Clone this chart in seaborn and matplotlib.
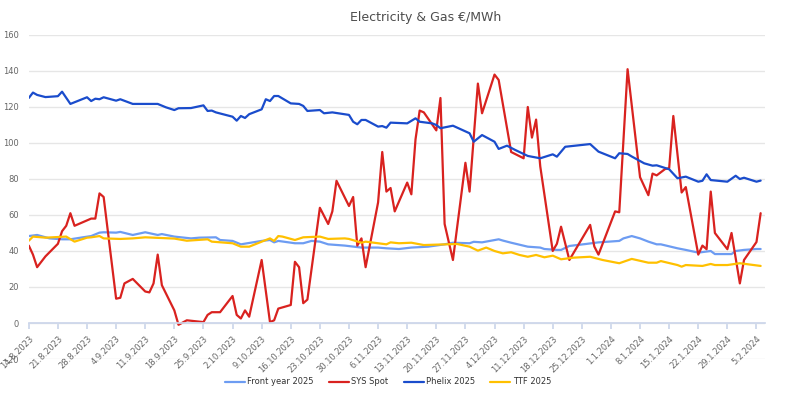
import pandas as pd
import numpy as np
import seaborn as sns
import matplotlib.pyplot as plt

# Startdatum, Werte als Tage seit Start
START = pd.Timestamp('2023-08-14')

spot_day = [0, 1, 2, 3, 4, 7, 8, 9, 10, 11, 15, 16, 17, 18, 21, 22, 23, 25, 28, 29,
            30, 31, 32, 35, 36, 38, 42, 43, 44, 46, 49, 50, 51, 52, 53, 56, 58, 59, 60, 63,
            64, 65, 66, 67, 70, 72, 73, 74, 77, 78, 79, 80, 81, 84, 85, 86, 87, 88, 91, 92,
            93, 94, 95, 98, 99, 100, 102, 105, 106, 108, 109, 112, 113, 116, 119, 120, 121, 122, 123, 126,
            127, 128, 130, 135, 136, 137, 141, 142, 144, 147, 148, 149, 150, 151, 153, 154, 155, 157, 158, 161,
            162, 163, 164, 165, 168, 169, 171, 172, 175, 176]
spot_val = [43, 38, 31, 34, 37, 44, 51, 54, 61, 54, 58, 58, 72, 70, 13.5, 14, 22, 24.5, 17.5, 17,
            22, 38, 21, 7, -1, 1.5, 0.5, 4.5, 6, 6, 15, 4.5, 2.5, 7, 3.5, 35, 0.5, 1.5, 8, 10,
            34, 31, 11, 13, 64, 55, 62, 79, 65, 70, 43, 47, 31, 67, 95, 73, 75, 62, 78, 71.5,
            102, 118, 117, 107, 125, 55, 35, 89, 73, 133, 116.5, 138, 135, 95, 91.5, 120, 103, 113, 87, 40,
            44, 53.5, 35, 54.5, 42.5, 38, 62, 61.5, 141, 81, 76, 71, 83, 82, 85.5, 86, 115, 72.5, 75.5, 38,
            43, 41, 73, 50, 41, 50, 22, 35, 45, 61]

phelix_day = [0, 1, 2, 4, 7, 8, 10, 14, 15, 16, 17, 18, 21, 22, 25, 30, 31, 33, 35, 36,
              39, 42, 43, 44, 45, 49, 50, 51, 52, 53, 56, 57, 58, 59, 60, 63, 65, 66, 67, 70,
              71, 73, 77, 78, 79, 80, 81, 84, 85, 86, 87, 88, 91, 93, 94, 97, 98, 99, 102, 106,
              107, 109, 112, 113, 115, 117, 120, 123, 126, 127, 129, 135, 137, 141, 142, 144, 145, 148, 150, 151,
              154, 156, 158, 161, 162, 163, 164, 168, 170, 171, 172, 175, 176]
phelix_val = [125, 128, 126.7, 125.5, 126, 128.5, 121.7, 125.4, 123.3, 124.6, 124.3, 125.4, 123.5, 124.3, 121.7, 121.7, 121.7, 119.8, 118.3, 119.3,
              119.4, 120.9, 117.8, 118, 117, 114.6, 112.4, 115, 113.9, 116, 118.7, 124.3, 123.3, 126.1, 126.1, 122, 121.7, 120.6, 117.8, 118.3,
              116.5, 117, 115.6, 111.8, 110.4, 112.8, 112.8, 109.1, 109.4, 108.5, 111.3, 111.2, 110.9, 113.7, 111.8, 110.9, 110, 108.2, 109.6, 105.4,
              100.7, 104.4, 100.7, 96.7, 98.5, 96.1, 92.8, 91.5, 93.7, 92.4, 97.9, 99.4, 95.2, 91.5, 94.3, 93.9, 92.5, 88.7, 87.4, 87.6,
              85.4, 80.4, 81.3, 78.5, 79, 82.6, 79.4, 78.5, 81.8, 80, 80.7, 78.5, 79.1]

front_day = [0, 2, 5, 8, 10, 13, 15, 17, 18, 21, 22, 25, 28, 31, 32, 35, 39, 41, 45, 46,
             49, 51, 56, 58, 59, 60, 64, 66, 68, 70, 72, 76, 80, 84, 86, 89, 92, 96, 100, 102,
             106, 107, 109, 113, 114, 116, 120, 123, 124, 127, 128, 130, 134, 137, 142, 143, 145, 147, 149, 151,
             152, 156, 158, 161, 164, 165, 169, 170, 172, 175, 176]
front_val = [48.3, 48.9, 47, 46.5, 46.5, 47.6, 48.3, 50.2, 50.4, 50.2, 50.6, 48.9, 50.4, 48.9, 49.4, 48, 47, 47.4, 47.6, 46.1,
             45.6, 43.7, 45.6, 46.1, 44.8, 45.6, 44.3, 44.3, 45.6, 45.2, 43.7, 43, 41.9, 41.9, 41.5, 41.1, 41.9, 42.4, 43.7, 44.6,
             44.3, 45.1, 44.8, 46.5, 45.8, 44.6, 42.4, 41.9, 41.1, 40.6, 40.6, 42.8, 43.9, 44.8, 45.6, 47, 48.3, 47, 45.2, 43.7,
             43.7, 41.5, 40.6, 39.1, 40, 38.3, 38.3, 40, 40.6, 41.1, 41.1]

ttf_day = [0, 1, 4, 9, 11, 14, 15, 17, 18, 22, 25, 28, 35, 38, 43, 44, 49, 51, 53, 57,
           58, 59, 60, 61, 64, 66, 70, 72, 76, 77, 80, 81, 84, 86, 87, 89, 92, 95, 99, 103,
           106, 108, 110, 112, 114, 116, 118, 120, 122, 124, 126, 128, 131, 135, 138, 142, 145, 149, 151, 152,
           156, 157, 158, 162, 164, 165, 168, 171, 172, 176]
ttf_val = [45.7, 48, 47.4, 48, 45.2, 47.4, 47.6, 48.3, 47, 46.7, 47, 47.6, 46.9, 45.7, 46.5, 45.2, 44.3, 42.4, 42.4, 46.1,
           47, 45.6, 48.3, 48, 46.1, 47.6, 48, 46.7, 47, 46.7, 44.6, 45.2, 44.3, 43.7, 44.8, 44.3, 44.6, 43.3, 43.6, 43.9,
           42.4, 40.2, 41.9, 40, 38.7, 39.3, 37.8, 36.8, 37.8, 36.5, 37.4, 35.4, 36.3, 36.8, 35, 33.2, 35.6, 33.5, 33.5, 34.4,
           32.2, 31.3, 32.2, 31.7, 32.8, 32.2, 32.2, 33.2, 32.9, 31.7]

series_names = ['Front year 2025', 'SYS Spot', 'Phelix 2025', 'TTF 2025']
series_colors = ['#6d9cf2', '#d9221f', '#1a4ccc', '#ffc000']


def build_frame():
    parts = []
    for name, days, vals in zip(series_names,
                                [front_day, spot_day, phelix_day, ttf_day],
                                [front_val, spot_val, phelix_val, ttf_val]):
        parts.append(pd.DataFrame({
            'date': START + pd.to_timedelta(days, unit='D'),
            'value': vals,
            'series': name,
        }))
    return pd.concat(parts, ignore_index=True)


def main():
    sns.set_theme(style='white')
    plt.rcParams['font.family'] = ['DejaVu Sans']

    df = build_frame()

    fig = plt.figure(figsize=(8, 3.93), dpi=100)
    ax = fig.add_axes([0.036, 0.0865, 0.92, 0.8245])

    sns.lineplot(data=df, x='date', y='value', hue='series', hue_order=series_names,
                 palette=dict(zip(series_names, series_colors)), estimator=None,
                 linewidth=1.6, ax=ax)

    # Spines zuerst (set_position setzt die Ticks zurück)
    for s in ['top', 'right', 'left']:
        ax.spines[s].set_visible(False)
    ax.spines['bottom'].set_position(('data', 0))
    ax.spines['bottom'].set_color('#ccd6eb')

    # Achsen
    ax.set_ylim(-20, 160)
    ax.set_yticks(np.arange(-20, 161, 20))
    ax.set_xlim(START, START + pd.Timedelta(days=177))
    ax.tick_params(axis='y', labelsize=6, labelcolor='#666666', length=0, pad=7)
    ax.tick_params(axis='x', length=4, color='#ccd6eb', pad=4, direction='out', bottom=True,
                   labelsize=6, labelcolor='#666666')
    ticks = pd.date_range('2023-08-14', '2024-02-05', freq='7D')
    ax.set_xticks(ticks)
    ax.set_xticklabels([f"{d.day}.{d.month}.{d.year}" for d in ticks],
                       rotation=45, ha='right', va='top', rotation_mode='anchor',
                       fontsize=6, color='#666666')
    ax.set_xlabel('')
    ax.set_ylabel('')

    ax.grid(axis='y', color='#e6e6e6', linewidth=1)
    ax.grid(axis='x', visible=False)
    ax.set_axisbelow(True)

    fig.text(0.532, 0.955, 'Electricity & Gas €/MWh', ha='center', va='center',
             fontsize=9, color='#4d4d4d')

    handles, labels = ax.get_legend_handles_labels()
    ax.get_legend().remove()
    leg = fig.legend(handles, labels, loc='center', bbox_to_anchor=(0.485, 0.028), ncol=4,
                     frameon=False, fontsize=6, handlelength=2.4, handletextpad=0.3,
                     columnspacing=1.8)
    for t in leg.get_texts():
        t.set_color('#333333')

    fig.savefig('out.png', dpi=100)


if __name__ == "__main__":
    main()
